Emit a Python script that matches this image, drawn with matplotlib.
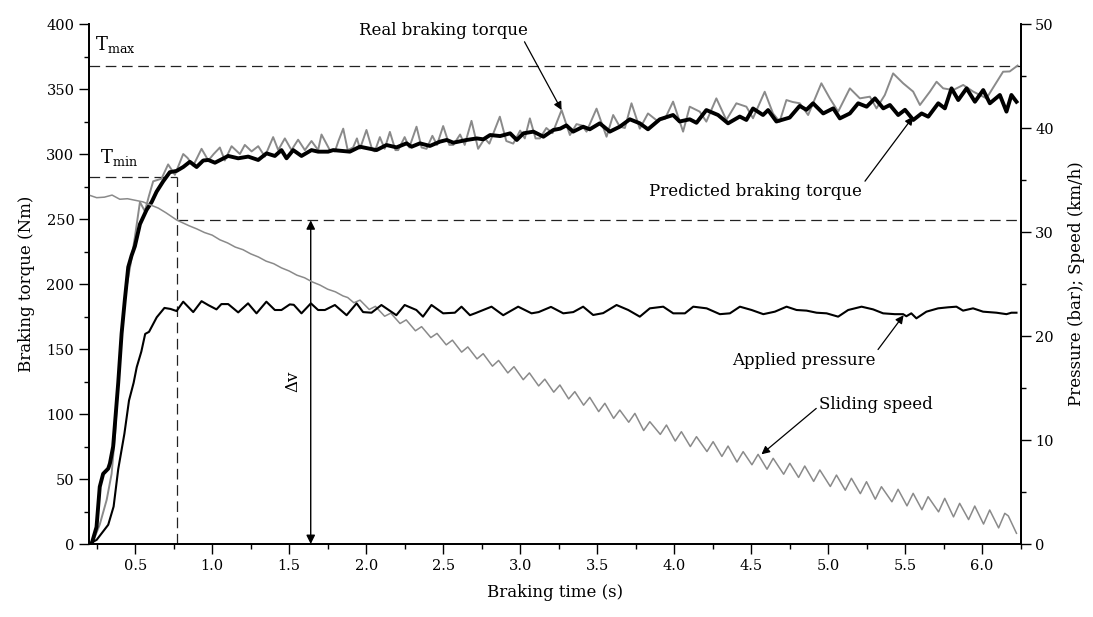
import matplotlib
matplotlib.use("Agg")
import matplotlib.pyplot as plt
from matplotlib.ticker import MultipleLocator

plt.rcParams['font.family'] = ['DejaVu Serif']
plt.rcParams['mathtext.fontset'] = 'dejavuserif'

# ---------------- data ----------------
real_t = [0.20, 0.23, 0.27, 0.315, 0.347, 0.37, 0.39, 0.41, 0.44, 0.47, 0.498, 0.531, 0.563, 0.59,
          0.617, 0.671, 0.714, 0.758, 0.812, 0.84, 0.877, 0.931, 0.975, 1.01, 1.05, 1.082, 1.126,
          1.18, 1.212, 1.256, 1.299, 1.342, 1.396, 1.429, 1.472, 1.515, 1.558, 1.602, 1.645, 1.688,
          1.71, 1.764, 1.797, 1.82, 1.851, 1.88, 1.915, 1.94, 1.96, 2.002, 2.04, 2.056, 2.089, 2.12,
          2.154, 2.19, 2.208, 2.25, 2.28, 2.327, 2.36, 2.392, 2.43, 2.46, 2.5, 2.54, 2.566, 2.61,
          2.64, 2.684, 2.727, 2.77, 2.80, 2.868, 2.91, 2.955, 3.0, 3.03, 3.063, 3.1, 3.128, 3.17,
          3.21, 3.269, 3.323, 3.366, 3.40, 3.431, 3.496, 3.561, 3.604, 3.647, 3.68, 3.723, 3.777,
          3.83, 3.885, 3.94, 3.993, 4.058, 4.101, 4.166, 4.209, 4.274, 4.339, 4.404, 4.469, 4.512,
          4.588, 4.642, 4.685, 4.729, 4.77, 4.816, 4.87, 4.956, 5.011, 5.065, 5.141, 5.206, 5.271,
          5.314, 5.368, 5.422, 5.487, 5.552, 5.596, 5.661, 5.704, 5.747, 5.812, 5.877, 5.942, 6.028,
          6.082, 6.136, 6.179, 6.23]
real_torque = [0, 3, 15, 34, 54, 85, 126, 158, 195, 215, 236, 263, 256, 268,
               279, 281, 292, 284, 300, 297, 291, 304, 295, 300, 305, 295, 306,
               300, 307, 302, 306, 298, 313, 303, 312, 303, 311, 303, 310, 303,
               315, 303, 302, 310, 319.5, 303, 305, 312, 304, 318.5, 303, 302, 313, 304,
               317, 303, 303, 313, 305, 321, 305, 304, 314, 307, 321.5, 307, 307, 315,
               307, 325.5, 304, 312, 308, 328.7, 310, 308, 318, 312, 327.4, 312, 312, 320,
               316, 333.8, 314.6, 323, 322, 317.2, 334.9, 313.3, 330, 321, 320, 339, 319.5,
               331.2, 326, 327, 340.3, 317.2, 336.4, 332.6, 324.9, 342.8, 326.2, 339, 336.4, 327.5,
               347.9, 331.2, 324.9, 341.5, 340, 339, 330, 354.4, 342.8, 332.6, 350.5, 342.8, 344.1,
               335.1, 345.4, 362, 354.4, 348, 337.7, 348, 355.6, 350.5, 349.2, 353.1, 348, 342.8,
               353.1, 363.3, 363.5, 368]

pred_t = [0.217, 0.249, 0.27, 0.292, 0.325, 0.336, 0.357, 0.39, 0.412, 0.433, 0.455, 0.477, 0.498,
          0.531, 0.574, 0.607, 0.639, 0.682, 0.725, 0.769, 0.812, 0.855, 0.899, 0.942, 0.975, 1.018,
          1.104, 1.169, 1.234, 1.299, 1.353, 1.407, 1.45, 1.483, 1.526, 1.58, 1.645, 1.688, 1.753,
          1.786, 1.894, 1.959, 2.067, 2.132, 2.197, 2.262, 2.295, 2.349, 2.414, 2.479, 2.523, 2.566,
          2.653, 2.718, 2.761, 2.805, 2.87, 2.935, 2.978, 3.021, 3.086, 3.151, 3.216, 3.26, 3.30,
          3.344, 3.409, 3.452, 3.517, 3.582, 3.647, 3.712, 3.777, 3.83, 3.907, 3.993, 4.036, 4.101,
          4.145, 4.209, 4.285, 4.35, 4.426, 4.469, 4.512, 4.577, 4.61, 4.664, 4.75, 4.815, 4.859,
          4.902, 4.968, 5.033, 5.076, 5.141, 5.195, 5.25, 5.304, 5.358, 5.401, 5.455, 5.499, 5.553,
          5.607, 5.65, 5.715, 5.758, 5.801, 5.845, 5.899, 5.953, 6.007, 6.05, 6.115, 6.158, 6.19,
          6.223]
pred_torque = [0, 13, 44, 54, 58, 62, 75, 124, 162, 188, 213, 222, 229,
               246, 257, 263, 271, 279, 286, 287, 290, 294, 290, 295, 295.4, 293.3,
               298.5, 296.7, 298, 295.4, 300.5, 298.5, 303, 296.7, 303, 298.5, 303, 301.8, 301.8,
               303, 301.8, 305.6, 303, 306.9, 305.1, 308.2, 305.6, 308.2, 306.2, 309.5, 310.8, 308.7,
               310.8, 312, 311.3, 314.6, 313.8, 315.9, 310.8, 315.9, 317.2, 313.3, 318.5, 319.5, 322,
               317.2, 321, 319, 323.6, 317.2, 321, 326.7, 323.6, 319, 326.7, 330, 325, 326.7,
               324, 333.8, 330, 323.6, 328.8, 326.2, 335, 330, 333.8, 325, 328, 337, 334,
               339, 331.2, 335.1, 327.4, 331.2, 339, 336.4, 342.8, 335.1, 337.7, 330, 334, 326.2,
               331.2, 328.7, 339, 335.1, 350.5, 341.5, 350.5, 340.2, 349.2, 339, 345.4, 332.6, 345.4,
               340.2]

press_t = [0.20, 0.25, 0.325, 0.36, 0.39, 0.43, 0.46, 0.49, 0.51, 0.54, 0.565, 0.59, 0.64, 0.69,
           0.73, 0.769, 0.812, 0.877, 0.931, 0.975, 1.028, 1.06, 1.104, 1.169, 1.233, 1.288, 1.352,
           1.407, 1.45, 1.504, 1.53, 1.58, 1.641, 1.688, 1.732, 1.797, 1.873, 1.938, 1.98, 2.035,
           2.099, 2.196, 2.25, 2.326, 2.369, 2.424, 2.5, 2.576, 2.619, 2.674, 2.71, 2.814, 2.89,
           2.987, 3.074, 3.12, 3.2, 3.28, 3.345, 3.409, 3.474, 3.539, 3.626, 3.702, 3.777, 3.842,
           3.929, 3.994, 4.07, 4.124, 4.211, 4.297, 4.362, 4.427, 4.503, 4.579, 4.654, 4.73, 4.795,
           4.86, 4.925, 4.99, 5.065, 5.13, 5.217, 5.292, 5.357, 5.433, 5.487, 5.508, 5.54, 5.573,
           5.638, 5.714, 5.779, 5.833, 5.876, 5.941, 6.006, 6.093, 6.158, 6.19, 6.223]
pressure = [0.0, 0.4, 1.85, 3.6, 7.2, 10.6, 13.8, 15.5, 17.0, 18.5, 20.2, 20.4, 21.8, 22.7,
            22.6, 22.4, 23.3, 22.3, 23.35, 22.97, 22.56, 23.07, 23.07, 22.27, 23.14, 22.18, 23.3,
            22.5, 22.5, 23.04, 23.0, 22.18, 23.14, 22.5, 22.5, 22.98, 22.0, 23.14, 22.3, 22.24,
            22.98, 22.0, 22.98, 22.5, 21.86, 22.98, 22.18, 22.24, 22.82, 22.0, 22.2, 22.82, 22.0,
            22.82, 22.18, 22.3, 22.8, 22.18, 22.3, 22.82, 22.02, 22.2, 22.98, 22.5, 21.86, 22.66,
            22.82, 22.18, 22.18, 22.82, 22.66, 22.1, 22.18, 22.82, 22.5, 22.1, 22.34, 22.82, 22.5,
            22.44, 22.24, 22.18, 21.86, 22.5, 22.82, 22.56, 22.18, 22.1, 22.1, 21.9, 22.18, 21.7,
            22.34, 22.66, 22.76, 22.82, 22.44, 22.66, 22.34, 22.24, 22.1, 22.24, 22.24]

speed_t = [0.20, 0.25, 0.30, 0.35, 0.40, 0.45, 0.50, 0.55, 0.60, 0.65, 0.70, 0.77, 0.85, 0.90,
           0.95, 1.00, 1.05, 1.10, 1.15, 1.20, 1.25, 1.30, 1.35, 1.40, 1.45, 1.50, 1.55, 1.60,
           1.65, 1.70, 1.75, 1.80, 1.85, 1.88, 1.92, 1.96, 2.02, 2.06, 2.12, 2.16, 2.22, 2.26,
           2.32, 2.36, 2.42, 2.46, 2.52, 2.56, 2.62, 2.66, 2.72, 2.76, 2.82, 2.86, 2.92, 2.96,
           3.02, 3.06, 3.12, 3.16, 3.218, 3.258, 3.315, 3.355, 3.412, 3.452, 3.51, 3.55, 3.607,
           3.647, 3.705, 3.745, 3.802, 3.842, 3.91, 3.95, 4.007, 4.047, 4.105, 4.145, 4.213, 4.253,
           4.31, 4.35, 4.408, 4.448, 4.505, 4.545, 4.603, 4.643, 4.711, 4.751, 4.808, 4.848, 4.906,
           4.946, 5.014, 5.054, 5.111, 5.151, 5.209, 5.249, 5.306, 5.346, 5.414, 5.454, 5.512,
           5.552, 5.609, 5.649, 5.717, 5.757, 5.814, 5.854, 5.912, 5.952, 6.009, 6.049, 6.107,
           6.147, 6.17, 6.223]
speed = [33.55, 33.3, 33.35, 33.55, 33.15, 33.2, 33.05, 32.9, 32.6, 32.3, 31.85, 31.15, 30.6, 30.3,
         29.95, 29.7, 29.25, 28.95, 28.55, 28.3, 27.9, 27.6, 27.2, 26.95, 26.55, 26.25, 25.85, 25.6,
         25.2, 24.9, 24.5, 24.25, 23.85, 23.7, 23.2, 23.45, 22.55, 22.85, 21.9, 22.2, 21.2, 21.55,
         20.5, 20.9, 19.85, 20.25, 19.15, 19.6, 18.45, 18.95, 17.8, 18.3, 17.1, 17.65, 16.45, 17.05,
         15.8, 16.45, 15.2, 15.85, 14.6, 15.29, 13.95, 14.65, 13.35, 14.1, 12.73, 13.53, 12.08,
         12.88, 11.71, 12.56, 10.91, 11.76, 10.54, 11.44, 9.9, 10.8, 9.37, 10.32, 8.89, 9.84,
         8.42, 9.42, 7.88, 8.88, 7.62, 8.62, 7.19, 8.24, 6.71, 7.76, 6.4, 7.5, 6.02,
         7.12, 5.53, 6.63, 5.17, 6.32, 4.84, 5.99, 4.31, 5.51, 4.06, 5.26, 3.67,
         4.87, 3.3, 4.55, 3.09, 4.39, 2.61, 3.91, 2.35, 3.65, 1.92, 3.27, 1.55,
         2.95, 2.7, 1.03]

t_max = 368
t_min = 282
t_min_time = 0.77
v_ref = 249
dv_time = 1.64

# ---------------- figure ----------------
fig = plt.figure(figsize=(10.93, 6.17), dpi=100)
ax = fig.add_axes([0.0814, 0.1183, 0.8524, 0.8428])
ax2 = ax.twinx()

ax2.plot(speed_t, speed, color='#8a8a8a', lw=1.1, zorder=2)
ax2.plot(press_t, pressure, color='black', lw=1.5, zorder=3)
ax.plot(real_t, real_torque, color='#8a8a8a', lw=1.4, zorder=4)
ax.plot(pred_t, pred_torque, color='black', lw=2.8, zorder=5)

ax.set_xlim(0.2, 6.25)
ax.set_ylim(0, 400)
ax2.set_ylim(0, 50)

dash = (0, (8.5, 4.5))
ax.plot([0.2, 6.25], [t_max, t_max], color='#222222', lw=0.9, ls=dash)
ax.plot([0.2, t_min_time], [t_min, t_min], color='#222222', lw=0.9, ls=dash)
ax.plot([t_min_time, t_min_time], [0, t_min], color='#222222', lw=0.9, ls=dash)
ax.plot([t_min_time, 6.25], [v_ref, v_ref], color='#222222', lw=0.9, ls=dash)

ax.annotate('', xy=(dv_time, 0), xytext=(dv_time, v_ref),
            arrowprops=dict(arrowstyle='<|-|>', color='black', lw=1.0, mutation_scale=13,
                            shrinkA=0, shrinkB=0))
ax.text(1.525, 125, '\u0394v', rotation=90, ha='center', va='center', fontsize=12)

ax.text(0.37, 384, r'$\mathrm{T}_{\mathrm{max}}$', ha='center', va='center', fontsize=13)
ax.text(0.395, 297, r'$\mathrm{T}_{\mathrm{min}}$', ha='center', va='center', fontsize=13)

ap = dict(arrowstyle='-|>', color='black', lw=0.9, mutation_scale=12, shrinkA=0, shrinkB=0)
ax.annotate('Real braking torque', xy=(3.269, 333.8), xytext=(2.5, 395),
            ha='center', va='center', fontsize=12, arrowprops=dict(ap, relpos=(0.97, 0.05)))
ax.annotate('Predicted braking torque', xy=(5.552, 328.7), xytext=(4.53, 271),
            ha='center', va='center', fontsize=12, arrowprops=dict(ap, relpos=(1.0, 0.9)))
ax.annotate('Applied pressure', xy=(5.49, 176), xytext=(4.84, 141.5),
            ha='center', va='center', fontsize=12, arrowprops=dict(ap, relpos=(1.0, 0.9)))
ax.annotate('Sliding speed', xy=(4.567, 69), xytext=(5.31, 107.4),
            ha='center', va='center', fontsize=12, arrowprops=dict(ap, relpos=(0.0, 0.4)))

# axes styling
for a in (ax, ax2):
    a.spines['top'].set_visible(False)
    for s in ('left', 'right', 'bottom'):
        a.spines[s].set_linewidth(1.3)
ax.xaxis.set_major_locator(MultipleLocator(0.5))
ax.xaxis.set_minor_locator(MultipleLocator(0.25))
ax.yaxis.set_major_locator(MultipleLocator(50))
ax.yaxis.set_minor_locator(MultipleLocator(25))
ax2.yaxis.set_major_locator(MultipleLocator(10))
ax2.yaxis.set_minor_locator(MultipleLocator(5))
ax.set_xticks([0.5, 1.0, 1.5, 2.0, 2.5, 3.0, 3.5, 4.0, 4.5, 5.0, 5.5, 6.0])
for a in (ax, ax2):
    a.tick_params(which='major', direction='out', length=7, width=1.0, labelsize=10.5)
    a.tick_params(which='minor', direction='out', length=3.5, width=1.0)

ax.set_xlabel('Braking time (s)', fontsize=12, labelpad=8)
ax.set_ylabel('Braking torque (Nm)', fontsize=12, labelpad=8)
ax2.set_ylabel('Pressure (bar); Speed (km/h)', fontsize=12, labelpad=10)

fig.savefig('out.png', dpi=100)
